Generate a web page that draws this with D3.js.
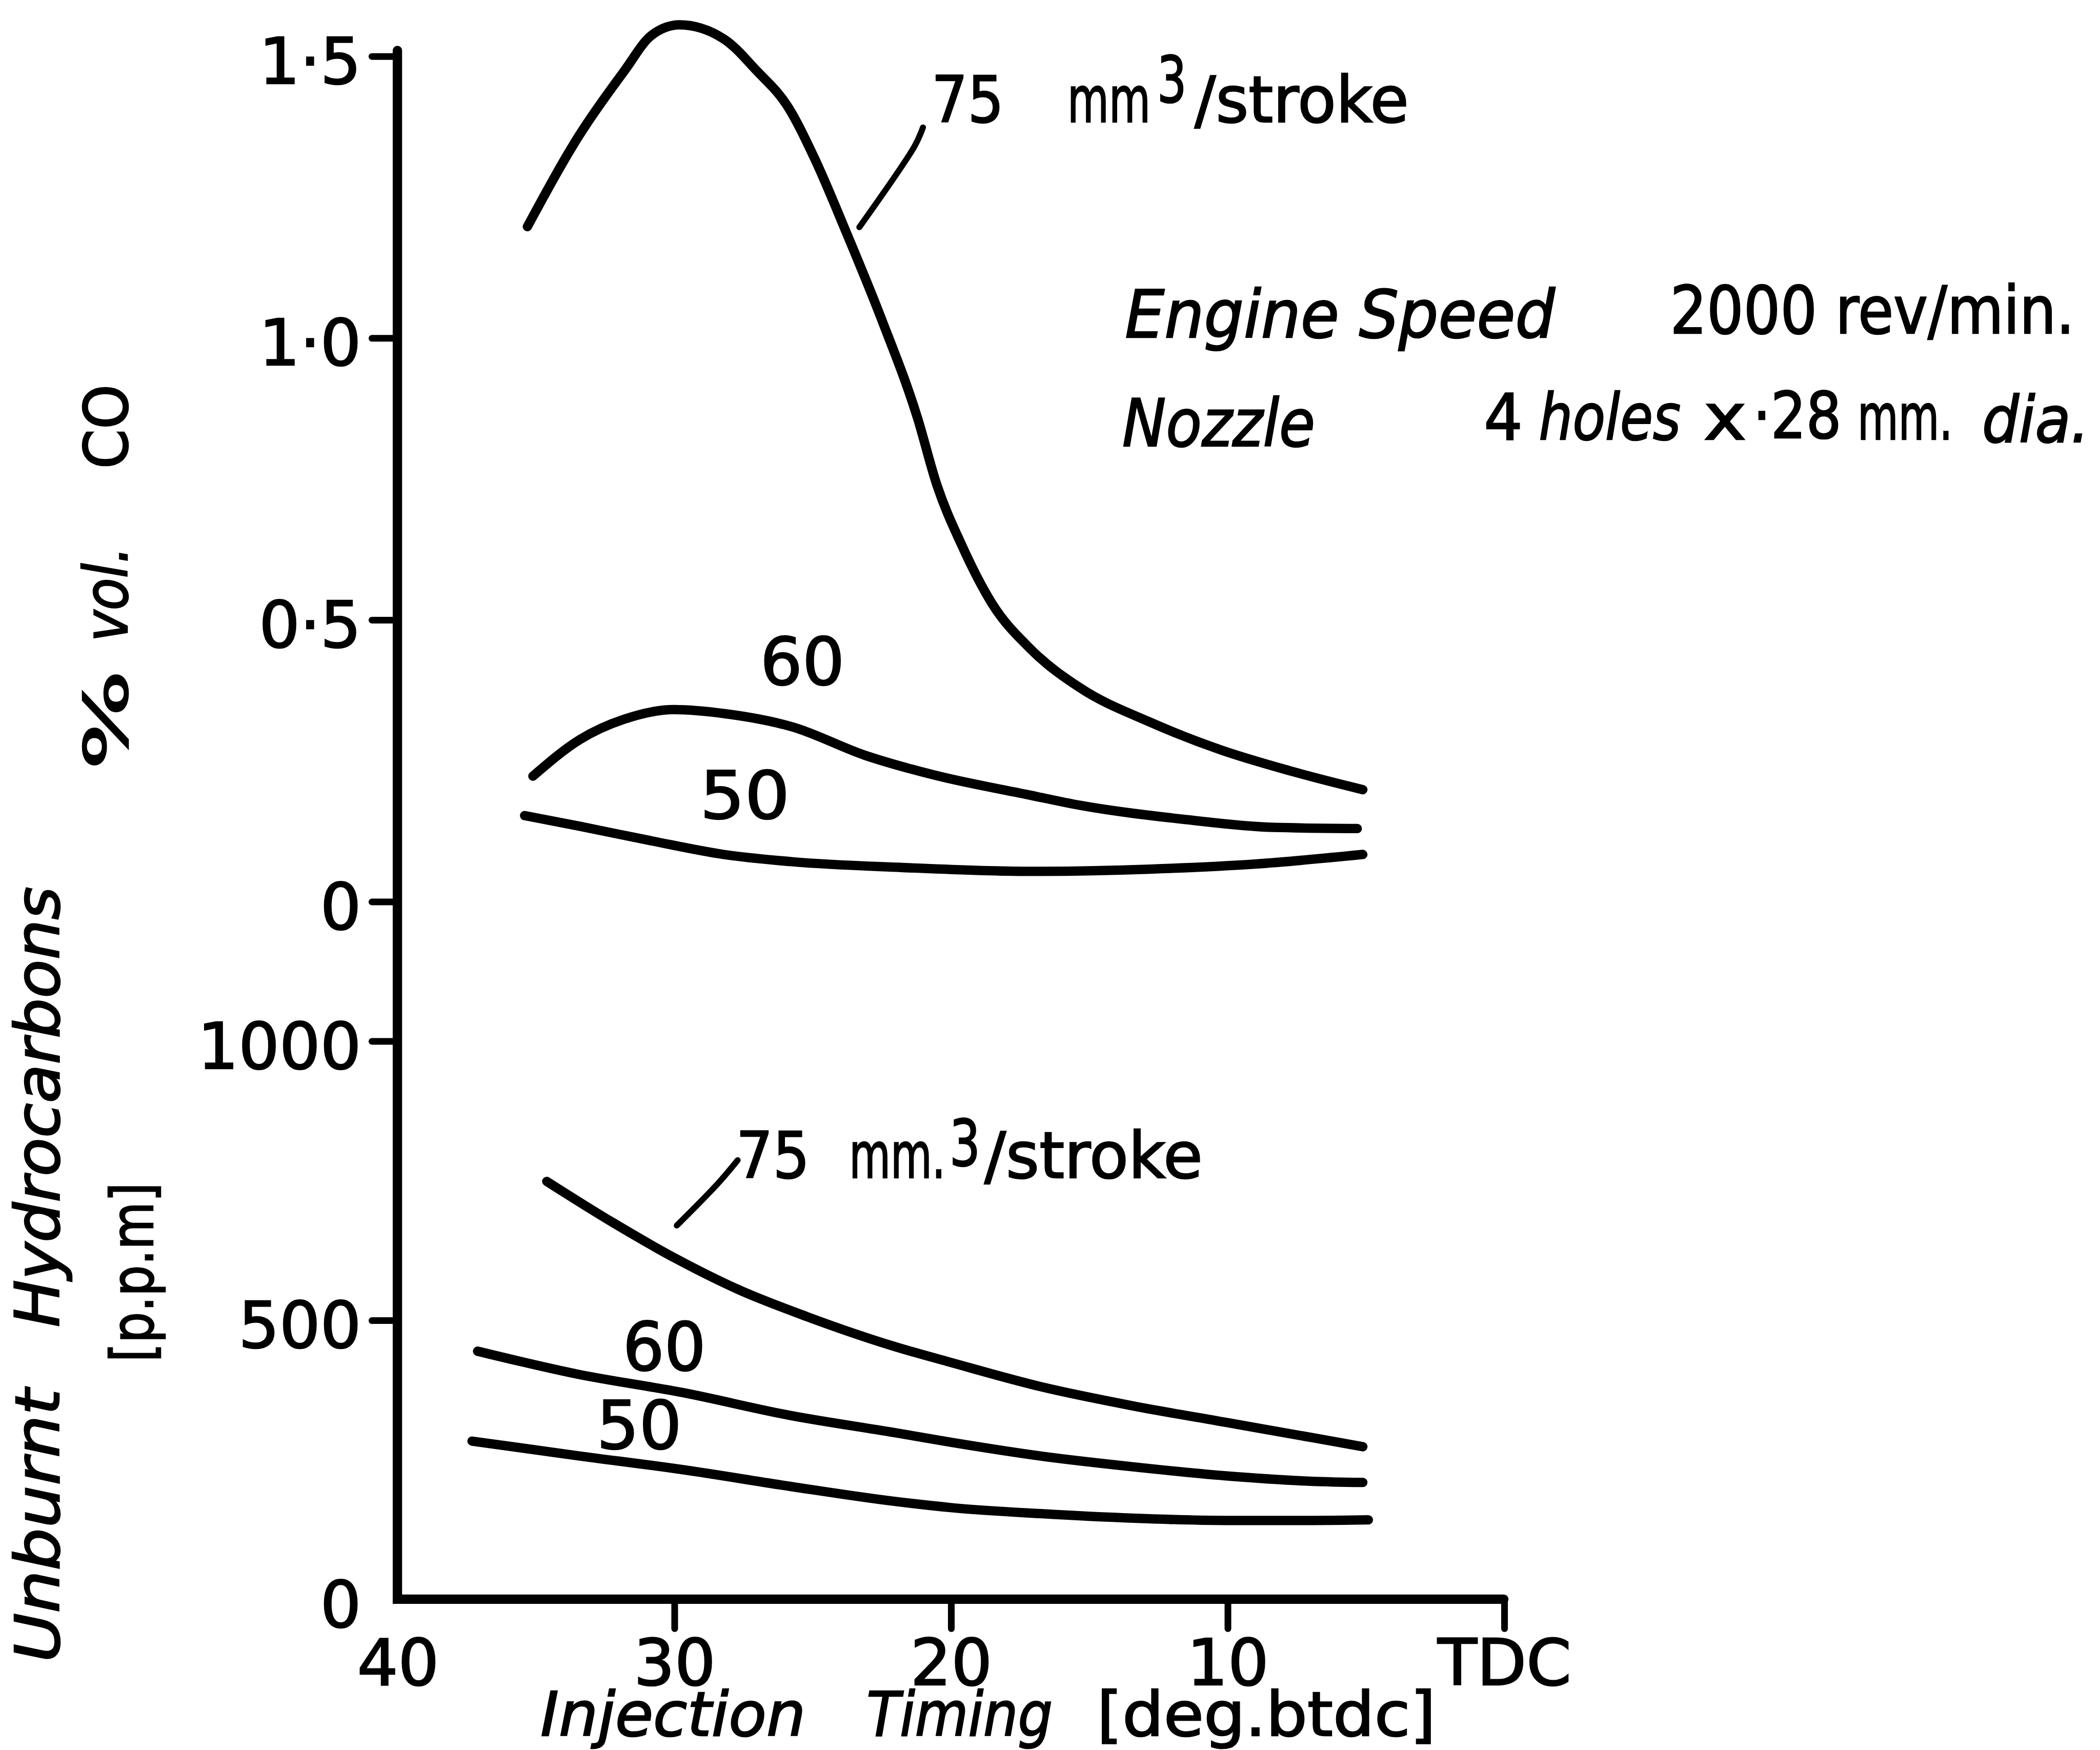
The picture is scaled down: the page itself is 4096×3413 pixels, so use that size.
<!DOCTYPE html>
<html lang="en">
<head>
<meta charset="utf-8">
<title>CO and unburnt hydrocarbons against injection timing</title>
<script src="https://cdn.jsdelivr.net/npm/d3@7"></script>
<style>
  html, body { margin: 0; padding: 0; background: #fff; }
  svg { display: block; }
  text { font-family: "DejaVu Sans", sans-serif; fill: #000; stroke: #000; stroke-width: 1; }
</style>
</head>
<body>
<script>
// tick values
var timingTicks = [40, 30, 20, 10, 0];
var coTicks = [0, 0.5, 1.0, 1.5];
var hcTicks = [0, 500, 1000];

// % vol. CO, injection timing in deg btdc
var coTiming75 = [35.3, 33.4, 31.8, 30.8, 29.8, 28.2, 27.0, 25.9, 24.9, 23.8, 22.5, 21.2, 20.5, 19.6, 18.5, 17.1, 15.3, 12.8, 10.2, 7.7, 5.1];
var coValues75 = [1.197, 1.361, 1.473, 1.537, 1.555, 1.530, 1.473, 1.411, 1.316, 1.190, 1.033, 0.858, 0.739, 0.632, 0.528, 0.447, 0.378, 0.318, 0.268, 0.231, 0.198];
var coTiming60 = [35.1, 33.4, 31.8, 30.0, 28.2, 25.7, 23.1, 20.6, 17.2, 15.3, 11.5, 8.3, 5.3];
var coValues60 = [0.222, 0.287, 0.323, 0.340, 0.333, 0.309, 0.259, 0.224, 0.189, 0.170, 0.145, 0.131, 0.129];
var coTiming50 = [35.4, 33.4, 30.8, 28.2, 25.7, 21.8, 17.2, 12.8, 9.0, 5.1];
var coValues50 = [0.152, 0.133, 0.107, 0.083, 0.070, 0.060, 0.053, 0.057, 0.066, 0.083];

// unburnt hydrocarbons, p.p.m
var hcTiming75 = [34.6, 32.2, 29.9, 27.7, 25.2, 22.0, 20.0, 16.7, 13.4, 10.1, 6.9, 5.1];
var hcValues75 = [748, 674, 609, 555, 506, 452, 424, 380, 346, 317, 289, 273];
var hcTiming60 = [37.1, 33.5, 29.7, 25.8, 22.0, 20.0, 16.7, 13.4, 10.1, 6.9, 5.1];
var hcValues60 = [444, 403, 370, 329, 298, 281, 256, 237, 221, 211, 209];
var hcTiming50 = [37.3, 33.5, 29.7, 25.8, 22.0, 20.0, 16.7, 13.4, 10.1, 6.9, 4.9];
var hcValues50 = [283, 257, 232, 202, 175, 164, 153, 145, 141, 141, 142];

// drawing units are the 1568 px wide layout, scaled up to the window by the viewBox
var W = 1568, H = 1306.6;
var svg = d3.select("body").append("svg")
    .attr("width", 4096)
    .attr("height", 3413)
    .attr("viewBox", "0 0 " + W + " " + H);

var x = d3.scaleLinear().domain([40, 0]).range([296.7, 1122.9]);
var yCO = d3.scaleLinear().domain([0, 1.5]).range([672.9, 41.7]);
var yHC = d3.scaleLinear().domain([0, 1000]).range([1194, 777]);

var fmtCO = function(d) {
    return d === 0 ? "0" : d3.format(".1f")(d).replace(".", "\u00b7");
};

function styleAxis(g) {
    g.select(".domain").remove();
    g.selectAll(".tick line").attr("stroke", "#000").attr("stroke-width", 5).attr("stroke-linecap", "round");
    g.selectAll(".tick text")
        .attr("font-size", 48)
        .attr("fill", "#000")
        .attr("stroke", "#000")
        .attr("stroke-width", 1)
        .attr("font-family", "DejaVu Sans, sans-serif");
}

// CO axis (upper part)
var gCO = svg.append("g")
    .attr("transform", "translate(" + x(40) + ",0)")
    .call(d3.axisLeft(yCO).tickValues(coTicks).tickFormat(fmtCO).tickSize(19).tickPadding(8));
styleAxis(gCO);
gCO.selectAll(".tick text").attr("dy", "0.42em");

// HC axis (lower part)
var gHC = svg.append("g")
    .attr("transform", "translate(" + x(40) + ",0)")
    .call(d3.axisLeft(yHC).tickValues(hcTicks).tickFormat(d3.format("d")).tickSize(19).tickPadding(8));
styleAxis(gHC);
gHC.selectAll(".tick text").attr("dy", "0.42em");
gHC.selectAll(".tick").filter(function(d) { return d === 0; }).select("line").remove();

// timing axis
var gX = svg.append("g")
    .attr("transform", "translate(0," + yHC(0) + ")")
    .call(d3.axisBottom(x).tickValues(timingTicks)
        .tickFormat(function(d) { return d === 0 ? "TDC" : d; })
        .tickSize(22).tickPadding(8));
styleAxis(gX);
gX.selectAll(".tick").filter(function(d) { return d === 40; }).select("line").remove();

// the two axis lines, drawn as one L
svg.append("path")
    .attr("d", d3.line()([[x(40), yCO(1.5) - 4], [x(40), yHC(0)], [x(0), yHC(0)]]))
    .attr("fill", "none")
    .attr("stroke", "#000")
    .attr("stroke-width", 7)
    .attr("stroke-linejoin", "miter")
    .attr("stroke-linecap", "round");

// curves
var series = [
    { t: coTiming75, v: coValues75, y: yCO },
    { t: coTiming60, v: coValues60, y: yCO },
    { t: coTiming50, v: coValues50, y: yCO },
    { t: hcTiming75, v: hcValues75, y: yHC },
    { t: hcTiming60, v: hcValues60, y: yHC },
    { t: hcTiming50, v: hcValues50, y: yHC }
];

svg.selectAll("path.curve")
    .data(series)
    .enter()
    .append("path")
    .attr("class", "curve")
    .attr("d", function(s) {
        var line = d3.line()
            .x(function(d) { return x(d[0]); })
            .y(function(d) { return s.y(d[1]); })
            .curve(d3.curveMonotoneX);
        return line(d3.zip(s.t, s.v));
    })
    .attr("fill", "none")
    .attr("stroke", "#000")
    .attr("stroke-width", 7)
    .attr("stroke-linecap", "round")
    .attr("stroke-linejoin", "round");

// leader lines from the 75 mm3 labels to their curves
var leaderCO = [[23.3, 1.196], [21.3, 1.340], [21.0, 1.373]];
var leaderHC = [[29.9, 669], [28.4, 745], [27.7, 786]];
svg.append("path")
    .attr("d", d3.line().x(function(d) { return x(d[0]); }).y(function(d) { return yCO(d[1]); })
        .curve(d3.curveCatmullRom)(leaderCO))
    .attr("fill", "none").attr("stroke", "#000").attr("stroke-width", 4.5).attr("stroke-linecap", "round");
svg.append("path")
    .attr("d", d3.line().x(function(d) { return x(d[0]); }).y(function(d) { return yHC(d[1]); })
        .curve(d3.curveCatmullRom)(leaderHC))
    .attr("fill", "none").attr("stroke", "#000").attr("stroke-width", 4.5).attr("stroke-linecap", "round");

// text helper: start x, baseline y, width along the line
function label(parent, str, x0, y0, len, italic, size) {
    return parent.append("text")
        .attr("x", x0)
        .attr("y", y0)
        .attr("font-size", size || 48)
        .attr("font-style", italic ? "italic" : "normal")
        .attr("textLength", len)
        .attr("lengthAdjust", "spacingAndGlyphs")
        .text(str);
}

// curve labels
label(svg, "75", 695.6, 91, 54);
label(svg, "mm", 797, 91, 62);
label(svg, "3", 864, 76, 22);
label(svg, "/stroke", 892, 91, 160);

label(svg, "60", 567.6, 511, 63, false, 49);
label(svg, "50", 522.6, 611, 67, false, 49);

label(svg, "75", 549.6, 879.5, 55);
label(svg, "mm.", 634, 879.5, 72);
label(svg, "3", 709, 870, 23);
label(svg, "/stroke", 735, 879.5, 163);

label(svg, "60", 465, 1023, 62, false, 50);
label(svg, "50", 445.5, 1081.6, 63.5, false, 50);

// test conditions
label(svg, "Engine Speed", 840, 252, 321, true, 49);
label(svg, "2000 rev/min.", 1247, 249, 302, false, 49);
label(svg, "Nozzle", 838, 333, 144, true, 49);
label(svg, "4", 1108, 328, 29, false, 48);
label(svg, "holes", 1149, 328, 106, true, 48);
label(svg, "x", 1272, 328, 32, false, 48);
label(svg, "\u00b728", 1309, 327, 66, false, 48);
label(svg, "mm.", 1387, 328, 71, false, 48);
label(svg, "dia.", 1480, 330, 80, true, 48);

// x axis title
label(svg, "Injection", 403.6, 1296, 198, true, 46);
label(svg, "Timing", 647, 1296, 139, true, 46);
label(svg, "[deg.btdc]", 819, 1296, 253, false, 46);

// y axis titles, rotated to read upwards
var rot = svg.append("g").attr("transform", "rotate(-90)");
label(rot, "%", -575, 95, 75, false, 45);
label(rot, "vol.", -479, 95, 71, true, 45);
label(rot, "CO", -350, 95, 63, false, 45);

label(rot, "Unburnt", -1241, 44, 204, true, 46);
label(rot, "Hydrocarbons", -991, 44, 329, true, 46);
label(rot, "[p.p.m]", -1017, 114, 134, false, 44);
</script>
</body>
</html>
